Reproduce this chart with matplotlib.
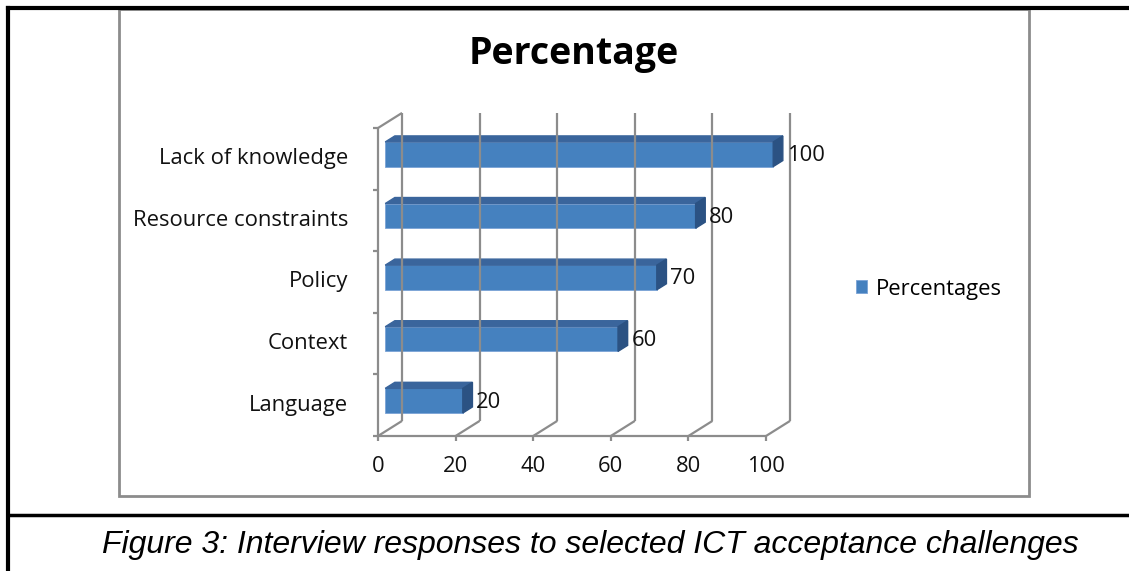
import numpy as np
import matplotlib.pyplot as plt
from matplotlib.patches import Polygon, Rectangle
from matplotlib.lines import Line2D
from matplotlib.transforms import offset_copy

categories = ['Language', 'Context', 'Policy', 'Resource constraints', 'Lack of knowledge']
values = [20, 60, 70, 80, 100]
xticks = [0, 20, 40, 60, 80, 100]
title = 'Percentage'
series_name = 'Percentages'
caption = 'Figure 3: Interview responses to selected ICT acceptance challenges'

W, H = 1129, 571
fig = plt.figure(figsize=(W / 100, H / 100), dpi=100)
# front plane of the 3d box
ax = fig.add_axes([378 / W, 1 - 436 / H, (766 - 378) / W, (436 - 128) / H])
ax.set_xlim(0, 100)
ax.set_ylim(-0.5, len(categories) - 0.5)
ax.axis('off')

font = 'Open Sans'
fs = 15.8
grid = '#8c8c8c'
lw = 1.6
# depth of the box in data units
dx, dy = 6.2, 0.245
ylo, yhi = -0.5, len(categories) - 0.5

def ln(xs, ys, **kw):
    ax.plot(xs, ys, color=grid, lw=lw, clip_on=False, solid_capstyle='butt', **kw)

# back wall gridlines + floor diagonals
for t in xticks:
    ln([t + dx, t + dx], [ylo + dy, yhi + dy])
    ln([t, t + dx], [ylo, ylo + dy])
# floor front edge and left wall
ln([0, 100], [ylo, ylo])
ln([0, 0], [ylo, yhi])
ln([0, dx], [yhi, yhi + dy])
for t in xticks:
    ln([t, t], [ylo, ylo - 0.08])
for b in np.arange(ylo, yhi + 0.01, 1.0):
    ln([0, -1.3], [b, b])

# bars
f0, f1 = 0.3, 0.7
h = 0.4
front = '#4581bf'
topc = '#3a659c'
side = '#2b5283'
ypos = np.arange(len(categories))
bars = ax.barh(ypos + f0 * dy, values, left=f0 * dx, height=h, color=front,
               edgecolor='#7aa3d6', linewidth=0.6, clip_on=False, label=series_name)
for y, v in zip(ypos, values):
    yt = y + h / 2
    yb = y - h / 2
    ax.add_patch(Polygon([(f0 * dx, yt + f0 * dy), (v + f0 * dx, yt + f0 * dy),
                          (v + f1 * dx, yt + f1 * dy), (f1 * dx, yt + f1 * dy)],
                         closed=True, color=topc, clip_on=False))
    ax.add_patch(Polygon([(v + f0 * dx, yb + f0 * dy), (v + f0 * dx, yt + f0 * dy),
                          (v + f1 * dx, yt + f1 * dy), (v + f1 * dx, yb + f1 * dy)],
                         closed=True, color=side, clip_on=False))
    ax.text(v + f1 * dx + 1.0, y + 0.05, str(v), ha='left', va='center',
            fontsize=fs, family=font, color='#111111', clip_on=False)

# axis labels
tl = offset_copy(ax.transData, fig=fig, x=-30, y=0, units='dots')
for y, c in zip(ypos, categories):
    ax.text(0, y, c, transform=tl, ha='right', va='center', fontsize=fs,
            family=font, color='#111111')
tb = offset_copy(ax.transData, fig=fig, x=0, y=-30, units='dots')
for t in xticks:
    ax.text(t, ylo, str(t), transform=tb, ha='center', va='center', fontsize=fs,
            family=font, color='#111111')

fig.text(574 / W, 1 - 54 / H, title, ha='center', va='center', fontsize=27,
         fontweight='bold', family=font)

fig.legend(handles=[bars], labels=[series_name], loc='center left',
           bbox_to_anchor=(836 / W, 1 - 289 / H), frameon=False,
           handlelength=0.5, handleheight=0.5, handletextpad=0.4,
           prop={'family': font, 'size': fs})

# chart area border and page frame
fig.add_artist(Rectangle((119 / W, 1 - 496 / H), (1029 - 119) / W, (496 - 9) / H,
                         transform=fig.transFigure, fill=False, edgecolor=grid, lw=2))
fig.add_artist(Line2D([8 / W, 1], [1 - 8 / H, 1 - 8 / H], color='black', lw=3))
fig.add_artist(Line2D([8 / W, 8 / W], [0, 1 - 8 / H], color='black', lw=3))
fig.add_artist(Line2D([8 / W, 1], [1 - 515 / H, 1 - 515 / H], color='black', lw=2.5))

fig.text(590 / W, 1 - 545 / H, caption, ha='center', va='center', fontsize=23,
         style='italic', family='Liberation Sans')

fig.savefig('out.png', dpi=100)
